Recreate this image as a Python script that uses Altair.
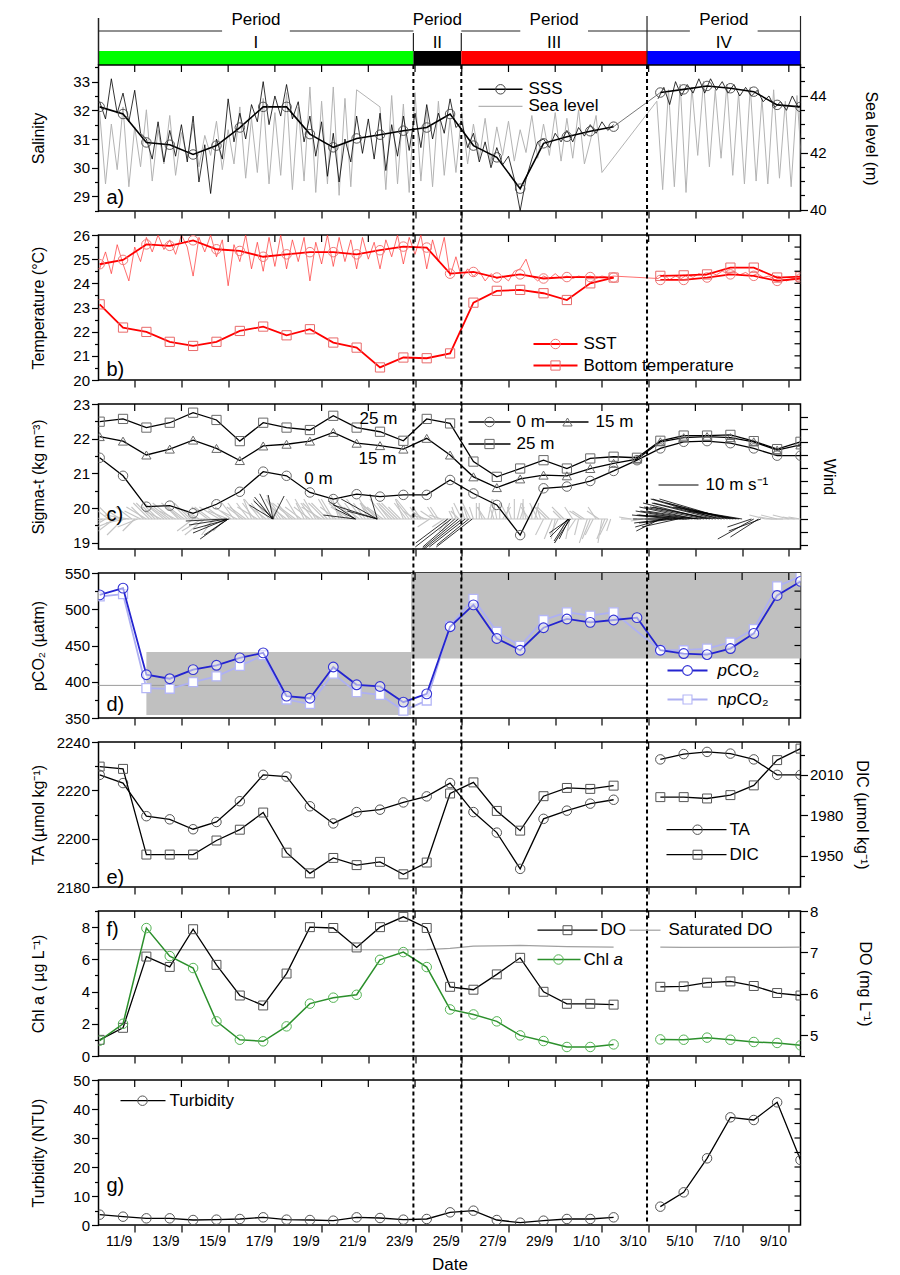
import altair as alt
import pandas as pd

FONT = "Liberation Sans"
W = 702
H = 145
HA = 146
HH = 56
SPACING = 23.5
XDOM = [9.95, 40.0]
PXD = W / (XDOM[1] - XDOM[0])  # pixels per day

# ---------------- periods ----------------
period_names = ["I", "II", "III", "IV"]
period_start = [9.95, 23.43, 25.48, 33.43]
period_end = [23.43, 25.48, 33.43, 40.0]
period_colors = ["#00ff00", "#000000", "#ff0000", "#0000ff"]
boundaries = [23.43, 25.48, 33.43]
x_ticks = [11.5 + 2 * k for k in range(15)]

days_1 = list(range(10, 33))
days_2 = list(range(34, 41))
days_all = list(range(10, 41))

# ---------------- a) salinity / sea level ----------------
sss_1 = [32.12, 31.87, 30.88, 30.80, 30.46, 30.77, 31.40, 32.12, 32.12, 31.17, 30.71, 31.02,
         31.15, 31.29, 31.40, 31.87, 30.77, 30.36, 29.27, 30.85, 31.08, 31.27, 31.43]
sss_2 = [32.62, 32.73, 32.85, 32.77, 32.65, 32.19, 32.12]
sal_hf_1 = [32.3, 31.7, 33.1, 31.9, 32.6, 31.6, 32.7, 31.2, 31.0, 30.3, 31.6, 30.2, 31.3, 30.4, 31.5, 30.2,
            31.8, 29.5, 30.8, 29.1, 31.0, 30.3, 32.4, 30.9, 31.9, 31.0, 32.2, 31.6, 33.0, 31.5, 32.5, 31.8,
            32.9, 31.7, 32.3, 30.9, 31.8, 30.4, 31.6, 29.7, 31.2, 29.5, 31.0, 30.2, 31.8, 30.5, 31.7, 30.3,
            31.9, 29.9, 31.5, 30.4, 31.8, 30.6, 31.9, 30.7, 32.2, 31.0, 31.9, 31.2, 32.4, 31.4, 31.6, 30.7,
            31.2, 30.2, 30.9, 30.0, 30.7, 30.1, 30.4, 29.6, 28.5, 29.6, 30.3, 30.9, 31.0, 30.7, 31.2, 30.9,
            31.3, 30.9, 31.4, 31.1, 31.5, 31.2, 31.6, 31.3, 31.5]
sal_hf_2 = [32.4, 32.8, 32.2, 33.0, 32.5, 32.9, 32.6, 33.1, 32.6, 33.1, 32.7, 33.0, 32.6, 32.9, 32.5, 32.8,
            32.5, 32.7, 32.3, 32.5, 32.1, 32.3, 32.0, 32.5, 32.1, 32.3]
sl_1 = [43.4, 40.9, 43.0, 41.4, 43.6, 40.8, 42.9, 41.5, 43.5, 41.0, 42.8, 41.6, 43.3, 41.2, 42.7, 41.8,
        43.0, 41.5, 42.6, 41.9, 43.1, 41.4, 42.8, 41.6, 43.6, 41.1, 43.2, 41.3, 43.9, 40.9, 43.4, 41.2,
        44.1, 40.7, 43.6, 41.0, 44.3, 40.6, 43.8, 40.9, 44.3, 40.5, 43.9, 40.8, 44.2]
sl_2 = [43.6, 40.7, 44.0, 40.9, 43.7, 40.6, 44.1, 41.0, 43.5, 40.8, 43.8, 41.2, 43.2, 41.3, 43.4, 41.6,
        43.0, 41.8, 43.2, 41.6, 42.9, 41.9, 43.1, 41.7, 42.8, 42.0, 43.3, 41.8, 43.0, 41.9, 43.4, 41.7,
        43.2, 41.8, 43.5, 41.6, 42.4, 43.3, 41.3]
sl_3 = [43.8, 40.7, 44.2, 40.8, 44.4, 40.6, 44.3, 41.9, 44.5, 41.5, 44.2, 41.8, 44.4, 41.2, 44.1, 40.9,
        44.3, 41.0, 43.9, 40.9, 44.2, 41.1, 43.8, 40.8, 44.0, 41.0]

# ---------------- b) temperature ----------------
sst_1 = [24.79, 24.97, 25.61, 25.55, 25.78, 25.41, 25.34, 25.10, 25.20, 25.29, 25.29, 25.20,
         25.37, 25.52, 25.48, 24.40, 24.47, 24.24, 24.37, 24.20, 24.26, 24.26, 24.24]
sst_2 = [24.14, 24.14, 24.24, 24.37, 24.31, 24.10, 24.20]
bt_1 = [23.13, 22.17, 21.99, 21.58, 21.41, 21.58, 22.03, 22.21, 21.85, 22.10, 21.55, 21.34,
        20.52, 20.93, 20.90, 21.10, 23.20, 23.69, 23.73, 23.59, 23.31, 24.00, 24.24]
bt_2 = [24.31, 24.33, 24.37, 24.65, 24.65, 24.24, 24.28]
sst_hf_1 = [24.6, 25.3, 24.4, 25.6, 24.8, 24.1, 25.5, 24.9, 25.9, 25.3, 26.0, 25.4, 25.8, 25.2, 26.0, 25.5,
            24.3, 25.9, 25.3, 26.0, 25.1, 25.8, 23.9, 25.6, 24.9, 26.0, 24.6, 25.7, 24.5, 25.9, 24.7, 26.0,
            24.6, 25.8, 24.9, 25.9, 24.1, 25.7, 24.8, 26.0, 24.7, 25.9, 24.9, 25.8, 24.6, 25.9, 25.0, 25.7,
            24.6, 25.8, 25.1, 26.0, 24.8, 25.9, 25.2, 26.0, 24.6, 25.8, 24.9, 25.9, 24.3, 25.1, 24.2, 24.6,
            24.3, 24.5, 24.1, 24.4, 24.2, 24.3, 24.1, 24.5, 24.6, 25.0, 24.3, 24.1, 24.3, 24.2, 24.4, 24.2,
            24.3, 24.2, 24.3, 24.25, 24.3, 24.2, 24.3, 24.25, 24.3]
sst_hf_2 = [24.2, 24.35, 24.15, 24.3, 24.2, 24.35, 24.25, 24.4, 24.3, 24.45, 24.35, 24.5, 24.4, 24.5,
            24.35, 24.45, 24.3, 24.4, 24.25, 24.3, 24.15, 24.2, 24.1, 24.2, 24.15]

# ---------------- c) sigma-t and wind ----------------
sig_0 = [21.45, 20.93, 20.04, 20.07, 19.85, 20.11, 20.47, 21.05, 20.93, 20.45, 20.26, 20.40, 20.33,
         20.38, 20.38, 20.81, 20.42, 20.09, 19.22, 20.57, 20.62, 20.78, 21.07, 21.38, 21.72, 21.91,
         21.93, 21.87, 21.72, 21.51, 21.51]
sig_15 = [22.06, 21.93, 21.53, 21.70, 21.96, 21.72, 21.37, 21.79, 21.84, 21.93, 22.18, 21.87, 21.80,
          21.70, 22.01, 21.53, 20.90, 20.59, 20.84, 20.95, 20.93, 21.14, 21.29, 21.41, 21.91, 22.03,
          22.06, 22.03, 21.91, 21.67, 21.82]
sig_25 = [22.49, 22.57, 22.32, 22.46, 22.75, 22.54, 21.93, 22.46, 22.32, 22.25, 22.66, 22.32, 22.20,
          21.94, 22.57, 22.44, 21.34, 20.90, 21.14, 21.38, 21.14, 21.43, 21.48, 21.45, 21.94, 22.09,
          22.09, 22.11, 21.93, 21.70, 21.91]
# grey wind sticks, every 6 h from 10/9 00h (u east, v north, m/s)
wg_u = [-4, -5, -3, -5, -4, -6, -3, -4, -5, -4, -3, -5, -4, -4, -5, -3,
        -4, -3, -5, -4, -3, -4, -5, -3,
        -3, -4, -2, -5, -3, -4, -2, -3, -4, -5, -3, -2, -4, -3, -5, -4, -3, -2, -4, -5, -3, -4, -2, -3,
        -5, -4, -3, -4, -2, -3,
        -3, -2, -4, -3, -2, -3, -2, -1, -2, -1,
        -1, 0, -2, 1, -1, 2, -2, 0, 1, -1, 0, -2,
        -2, -3, -1, -2, -3, -2, -1, -3, -2, -2, -1, -2]
wg_v = [2, -3, 3, -2, -4, 1, -3, 2, 3, 4, 3, 4, 3, 2, 4, 3,
        -3, 2, -4, 3, -2, 3, 2, 4,
        4, 3, 5, 3, 4, 5, 6, 4, 3, 4, 5, 4, 3, 5, 3, 4, 5, 6, 4, 3, 4, 5, 4, 3,
        4, 5, 3, 4, 5, 4,
        2, 3, 1, 2, 3, -2, -3, 3, 4, 3,
        3, 4, 3, 4, 5, 3, 4, 5, 3, 4, 3, 4,
        -4, 3, -5, 2, -6, 3, -4, 2, -5, 3, -6, -4]
# grey wind sticks, every 6 h from 10/9 03h
wg3_u = [-5, -4, -4, -3, -5, -4, -5, -3, -4, -3, -4, -4, -5, -3, -4, -4,
         -3, -5, -4, -3, -5, -3, -4, -4,
         -4, -3, -3, -4, -4, -3, -3, -4, -3, -4, -4, -3, -3, -4, -4, -3, -4, -3, -3, -4,
         -4, -3, -3, -4, -4, -3, -4, -3, -3, -4,
         -2, -3, -3, -2, -3, -2, -1, -2, -1, -2,
         0, -1, 1, -1, 0, 1, -1, 1, 0, -2, 1, -1,
         -3, -2, -2, -3, -1, -2, -3, -2, -2, -3, -2, -1]
wg3_v = [-2, 3, -3, 2, -1, 3, -2, 3, 4, 3, 2, 3, 4, 3, 3, 4,
         2, -3, 3, -4, 3, -3, 3, 2,
         3, 4, 4, 5, 3, 4, 5, 5, 4, 3, 3, 5, 4, 4, 4, 5, 3, 5, 5, 4,
         3, 4, 5, 4, 3, 4, 4, 3, 4, 5,
         3, 2, -2, 3, 1, -3, 2, 2, 3, 4,
         4, 3, 5, 3, 4, 4, 3, 4, 5, 3, 4, 3,
         3, -5, -4, 3, -5, -3, 2, -6, -4, 2, -5, -3]
wg2_t = [32.75, 33.0, 33.25, 38.5, 38.75, 39.0, 39.25, 39.5, 39.75, 40.0]
wg2_u = [-3, -4, -3, -4, -3, -4, -3, -4, -3, -3]
wg2_v = [0.5, 0, -0.5, 1, 0.5, 1, 0, 1, 0.5, 0.5]
# black wind sticks
wb_t = [15.40, 15.45, 15.45, 15.50, 15.50, 15.55,
        17.40, 17.40, 17.40, 17.42, 17.45, 17.40,
        20.95, 20.95, 20.95, 21.88, 21.88, 21.88, 21.88,
        24.90, 25.05, 25.20, 25.35, 25.50, 25.65, 25.80, 25.95,
        30.05, 30.05, 30.10, 30.10, 30.15,
        34.00, 34.25, 34.50, 34.75, 35.00, 35.25, 35.50, 35.75, 36.00, 36.25, 36.50, 36.75, 37.00,
        37.25, 37.50, 37.90, 38.00, 38.20, 38.30,
        34.125, 34.375, 34.625, 34.875, 35.125, 35.375, 35.625, 35.875, 36.125, 36.375, 36.625,
        36.875, 37.125, 37.375]
wb_u = [-10.0, -9.5, -8.5, -7.0, -6.0, -9.0,
        -5.8, -4.5, -3.2, -1.2, -5.0, 2.9,
        -6.8, -5.0, -8.0, -11.0, -7.5, -1.8, -9.0,
        -8, -9, -8, -9, -10, -9, -8, -9,
        -4.5, -3.5, -5.0, -2.5, -4.0,
        -6, -8, -10, -9, -12, -11, -14, -13, -16, -15, -17, -18, -16, -15, -12,
        -6, -9, -7, -8,
        -7, -9, -9, -11, -12, -13, -13, -15, -15, -16, -17, -17, -15, -13]
wb_v = [-0.5, -1.5, -3.5, -5.0, -4.0, -2.5,
        3.5, 5.5, 6.3, 6.0, 4.5, 5.75,
        4.5, 2.5, 1.0, 3.5, 2.0, 6.2, 5.0,
        -6, -7, -7, -7.5, -8, -7, -6.5, -7,
        -4.5, -5.5, -3.5, -5.0, -6.0,
        -3, -1, 1, -2, 2, 0, 3, 1, 4, 3, 5, 5, 4, 3, 2,
        -2, -5, -4.5, -3,
        -2, 0, -1, 1, 1, 2, 2, 3, 3, 4, 4, 5, 3, 2]

# ---------------- d) pCO2 ----------------
pco2 = [519.9, 529.2, 409.7, 404.2, 416.7, 422.7, 432.9, 439.8, 380.1, 377.3, 420.4, 395.8, 393.5,
        371.8, 383.3, 475.9, 506.0, 459.7, 443.5, 474.5, 486.6, 481.9, 485.2, 488.4, 443.5, 438.9,
        437.5, 445.8, 466.7, 519.0, 538.4]
npco2_1 = [517.6, 520.8, 391.2, 390.3, 399.5, 407.4, 421.8, 436.6, 375.5, 369.4, 411.1, 385.6, 381.9,
           360.2, 374.1, 477.0, 514.4, 469.0, 449.5, 485.2, 495.8, 491.2, 495.8]
npco2_2 = [443.5, 443.5, 445.8, 454.2, 472.7, 531.5, 545.4]
box_x1 = [12.0, 23.33]
box_x2 = [23.33, 40.0]
box_lo = [354, 432]
box_hi = [441, 550]
pco2_atm = 395

# ---------------- e) TA / DIC ----------------
ta_1 = [2226.4, 2223.0, 2209.3, 2208.0, 2203.9, 2206.9, 2215.5, 2226.4, 2225.7, 2213.4, 2206.3, 2211.0,
        2212.0, 2215.0, 2217.5, 2223.0, 2211.0, 2202.5, 2187.5, 2208.2, 2211.6, 2214.5, 2216.1]
ta_2 = [2232.8, 2235.0, 2235.9, 2235.2, 2232.8, 2226.4, 2226.4]
dic_1 = [2016.1, 2014.4, 1951.0, 1951.0, 1951.0, 1961.4, 1969.4, 1982.1, 1952.4, 1937.1, 1948.5, 1943.2,
         1945.6, 1936.4, 1945.1, 1996.2, 2004.4, 1983.3, 1968.7, 1994.2, 2000.3, 1999.6, 2002.0]
dic_2 = [1993.5, 1993.5, 1992.5, 1995.0, 2002.2, 2020.9, 2029.4]

# ---------------- f) Chl a / DO ----------------
chl_1 = [0.95, 2.0, 7.94, 6.2, 5.46, 2.15, 1.01, 0.91, 1.84, 3.25, 3.62, 3.8, 5.97, 6.45, 5.52, 2.89,
         2.58, 2.15, 1.28, 0.93, 0.56, 0.56, 0.72]
chl_2 = [1.03, 1.01, 1.14, 1.01, 0.87, 0.81, 0.66]
do_1 = [4.89, 5.18, 6.90, 6.65, 7.56, 6.70, 5.96, 5.72, 6.49, 7.61, 7.59, 7.12, 7.61, 7.86, 7.59, 6.17,
        6.10, 6.47, 6.87, 6.05, 5.76, 5.76, 5.74]
do_2 = [6.17, 6.18, 6.27, 6.30, 6.19, 6.02, 5.96]
sat_days_1 = [10, 17, 24, 25, 26, 28, 30, 32]
sat_do_1 = [7.07, 7.06, 7.07, 7.10, 7.15, 7.17, 7.14, 7.13]
sat_do_2 = [7.13, 7.12, 7.12, 7.12, 7.12, 7.12, 7.13]

# ---------------- g) turbidity ----------------
turb_1 = [3.56, 2.87, 2.3, 2.3, 1.72, 1.84, 2.07, 2.64, 1.84, 1.72, 1.49, 2.64, 2.41, 1.84, 2.07, 4.37,
          4.94, 1.72, 0.8, 1.49, 2.07, 2.07, 2.64]
turb_2 = [6.32, 11.26, 22.99, 37.13, 36.2, 42.3, 22.41]

# ---------------- domains ----------------
SAL_DOM = [28.49, 33.58]
SL_DOM = [39.95, 45.07]
T_DOM = [20, 26]
SIG_DOM = [18.82, 23]
WIND_DOM = [-7.5, 28.75]
PCO2_DOM = [350, 550]
TA_DOM = [2180, 2240]
DIC_DOM = [1927, 2034.3]
CHL_DOM = [0, 9]
DO_DOM = [4.5, 8]
TUR_DOM = [0, 50]

ONE = pd.DataFrame({"k": [0]})
NOFRAME = alt.ViewBackground(stroke="transparent")


# ---------------- helpers ----------------
def grid(start, n, step=0.25):
    return [round(start + step * i, 4) for i in range(n)]


def frame(days, vals, seg=1):
    return pd.DataFrame({"d": days, "v": vals, "seg": [seg] * len(days)})


def two(d1, v1, d2, v2):
    return pd.concat([frame(d1, v1, 1), frame(d2, v2, 2)], ignore_index=True)


def X(field, axis):
    return alt.X(f"{field}:Q", scale=alt.Scale(domain=XDOM, nice=False, zero=False), axis=axis)


def Y(field, dom, axis):
    return alt.Y(f"{field}:Q", scale=alt.Scale(domain=dom, nice=False, zero=False), axis=axis)


def yaxis(major, minor, title, orient="left", title_x=-60):
    vals = sorted(set(major) | set(minor))
    test = " || ".join(f"abs(datum.value - ({m})) < 0.001" for m in major)
    return alt.Axis(values=vals, orient=orient, title=title, titleX=title_x, titleBaseline="middle",
                    titleFontSize=16, titleFontWeight="normal",
                    labelExpr=f"({test}) ? format(datum.value, 'd') : ''",
                    tickSize={"condition": {"test": test, "value": 7}, "value": 4},
                    labelFontSize=15, labelPadding=2, domain=False, grid=False)


AX_TICKS = alt.Axis(values=x_ticks, labels=False, tickSize=7, title=None, domain=False, grid=False)
AX_DATE = alt.Axis(values=x_ticks, tickSize=7, title="Date", titlePadding=8, titleFontSize=17,
                   titleFontWeight="normal", labelFontSize=14, labelOffset=-16, labelFlush=False,
                   labelOverlap=False, domain=False, grid=False,
                   labelExpr="floor(datum.value) <= 30 ? floor(datum.value) + '/9' : (floor(datum.value) - 30) + '/10'")


class Panel:
    """Holds the x axis and one y axis so every layer of a scale repeats the same axis."""

    def __init__(self, xax, dom=None, yax=None):
        self.xax, self.dom, self.yax = xax, dom, yax

    def line(self, df, color, width, detail=True):
        enc = dict(x=X("d", self.xax), y=Y("v", self.dom, self.yax))
        if detail:
            enc["detail"] = "seg:N"
        return alt.Chart(df).mark_line(color=color, strokeWidth=width, clip=True).encode(**enc)

    def pts(self, df, shape, stroke, size=85, fill=None, sw=1.0, fop=1.0):
        if fill:
            m = alt.Chart(df).mark_point(shape=shape, filled=True, fill=fill, fillOpacity=fop, stroke=stroke,
                                         strokeWidth=sw, size=size, opacity=1, clip=True)
        else:
            m = alt.Chart(df).mark_point(shape=shape, filled=False, color=stroke, strokeWidth=sw,
                                         size=size, opacity=1, clip=True)
        return m.encode(x=X("d", self.xax), y=Y("v", self.dom, self.yax))

    def rules(self, h, top=-SPACING):
        return alt.Chart(pd.DataFrame({"d": boundaries})).mark_rule(
            color="black", strokeWidth=2, strokeDash=[4, 3], clip=False).encode(
            x=X("d", self.xax), y=alt.value(top), y2=alt.value(h))

    def top_ticks(self):
        return alt.Chart(pd.DataFrame({"d": x_ticks})).mark_rule(color="black", strokeWidth=1.2).encode(
            x=X("d", self.xax), y=alt.value(0), y2=alt.value(7))

    def right_ticks(self, vals):
        return alt.Chart(pd.DataFrame({"v": vals})).mark_rule(color="black", strokeWidth=1.2).encode(
            y=Y("v", self.dom, self.yax), x=alt.value(W - 6), x2=alt.value(W))


def leg_line(x0, x1, y, color, width=1.5):
    return alt.Chart(ONE).mark_rule(color=color, strokeWidth=width).encode(
        x=alt.value(x0), x2=alt.value(x1), y=alt.value(y))


def leg_mark(x, y, shape, stroke, size=85, fill=None):
    if fill:
        m = alt.Chart(ONE).mark_point(shape=shape, filled=True, fill=fill, stroke=stroke, strokeWidth=1.1,
                                      size=size, opacity=1)
    else:
        m = alt.Chart(ONE).mark_point(shape=shape, filled=False, color=stroke, strokeWidth=1.0,
                                      size=size, opacity=1)
    return m.encode(x=alt.value(x), y=alt.value(y))


def leg_text(x, y, txt, size=17, style="normal", align="left"):
    return alt.Chart(ONE).mark_text(align=align, baseline="middle", fontSize=size, font=FONT,
                                    fontStyle=style, color="black").encode(
        x=alt.value(x), y=alt.value(y), text=alt.value(txt))


def plabel(txt, y):
    return leg_text(8, y, txt, size=20)


def spacer():
    return alt.Chart(ONE).mark_point(opacity=0).encode(
        x=alt.value(0), y=alt.value(0)).properties(width=W, height=SPACING, view=NOFRAME)


# ---------------- header ----------------
period_mid = [(s + e) / 2 for s, e in zip(period_start, period_end)]
per_df = pd.DataFrame({"name": period_names, "s": period_start, "e": period_end, "mid": period_mid})
hl_x1, hl_x2 = [], []
for s, e, m in zip(period_start, period_end, period_mid):
    if (e - s) * PXD > 90:
        hl_x1 += [s, m + 1.45]
        hl_x2 += [m - 1.45, e]
hl_df = pd.DataFrame({"a": hl_x1, "b": hl_x2})

header = alt.layer(
    alt.Chart(per_df).mark_rect().encode(
        x=X("s", None), x2="e:Q", y=alt.value(42), y2=alt.value(56),
        color=alt.Color("name:N", scale=alt.Scale(domain=period_names, range=period_colors), legend=None)),
    alt.Chart(hl_df).mark_rule(color="#222", strokeWidth=1).encode(x=X("a", None), x2="b:Q", y=alt.value(22)),
    alt.Chart(pd.DataFrame({"b": [period_start[0]]})).mark_rule(color="#222", strokeWidth=1.5).encode(
        x=X("b", None), y=alt.value(9), y2=alt.value(56)),
    alt.Chart(pd.DataFrame({"b": [boundaries[2], period_end[-1]]})).mark_rule(color="#222", strokeWidth=1.2).encode(
        x=X("b", None), y=alt.value(7), y2=alt.value(56)),
    alt.Chart(pd.DataFrame({"b": boundaries[:2]})).mark_rule(color="#222", strokeWidth=1.2).encode(
        x=X("b", None), y=alt.value(24), y2=alt.value(42)),
    alt.Chart(per_df).mark_text(fontSize=17, font=FONT, baseline="middle").encode(
        x=X("mid", None), y=alt.value(11), text=alt.value("Period")),
    alt.Chart(per_df).mark_text(fontSize=17, font=FONT, baseline="middle").encode(
        x=X("mid", None), y=alt.value(34), text="name:N"),
).properties(width=W, height=HH, view=NOFRAME)

# ---------------- panel a ----------------
sal_hf_df = two(grid(10.0, len(sal_hf_1)), sal_hf_1, grid(33.9, len(sal_hf_2)), sal_hf_2)
sl_df = pd.concat([frame(grid(10.0, len(sl_1)), sl_1), frame(grid(22.0, len(sl_2)), sl_2),
                   frame(grid(33.85, len(sl_3)), sl_3)], ignore_index=True)
sss_df = two(days_1, sss_1, days_2, sss_2)
sss_gap = frame([days_1[-1], days_2[0]], [sss_1[-1], sss_2[0]])

pa_r = Panel(AX_TICKS, SL_DOM, yaxis([40, 42, 44], [40.5, 41, 41.5, 42.5, 43, 43.5, 44.5, 45],
                                     "Sea level (m)", "right", 70))
pa_l = Panel(AX_TICKS, SAL_DOM, yaxis([29, 30, 31, 32, 33], [28.5, 29.5, 30.5, 31.5, 32.5, 33.5], "Salinity"))
panel_a = alt.layer(
    pa_r.line(sl_df, "#b3b3b3", 1.0, detail=False),
    alt.layer(
        pa_l.line(sal_hf_df, "black", 0.8),
        pa_l.line(sss_gap, "#555", 0.8),
        pa_l.line(sss_df, "black", 1.6),
        pa_l.pts(sss_df, "circle", "#444", size=90, sw=0.9),
    ),
    pa_l.rules(HA, top=0), pa_l.top_ticks(),
    leg_line(380, 424, 24.3, "black", 1.6), leg_mark(402, 24.3, "circle", "#444", 90),
    leg_text(430, 24.3, "SSS"),
    leg_line(380, 424, 41.3, "#b3b3b3", 1.2), leg_text(430, 41.3, "Sea level"),
    plabel("a)", 133),
).resolve_scale(y="independent").properties(width=W, height=HA)

# ---------------- panel b ----------------
sst_hf_df = pd.concat([frame(grid(10.0, len(sst_hf_1)), sst_hf_1),
                       frame(grid(33.9, len(sst_hf_2)), sst_hf_2)], ignore_index=True)
sst_df = two(days_1, sst_1, days_2, sst_2)
bt_df = two(days_1, bt_1, days_2, bt_2)
pb = Panel(AX_TICKS, T_DOM, yaxis([20, 21, 22, 23, 24, 25, 26], [20.5, 21.5, 22.5, 23.5, 24.5, 25.5],
                                  "Temperature (°C)"))
panel_b = alt.layer(
    pb.line(sst_hf_df, "#ff3030", 0.7, detail=False),
    pb.line(sst_df, "#ff0000", 1.8),
    pb.pts(sst_df, "circle", "#f07878", size=90),
    pb.line(bt_df, "#ff0000", 1.8),
    pb.pts(bt_df, "square", "#e86a6a", size=85),
    pb.right_ticks([20.5, 21, 21.5, 22, 22.5, 23, 23.5, 24, 24.5, 25, 25.5]),
    pb.rules(H), pb.top_ticks(),
    leg_line(435, 479, 109, "#ff0000", 1.8), leg_mark(457, 109, "circle", "#f07878", 90),
    leg_text(485, 109, "SST"),
    leg_line(435, 479, 130.5, "#ff0000", 1.8), leg_mark(457, 130.5, "square", "#e86a6a", 85),
    leg_text(485, 130.5, "Bottom temperature"),
    plabel("b)", 134.5),
).properties(width=W, height=H)


# ---------------- panel c ----------------
def wind_df(ts, us, vs):
    return pd.DataFrame({"d": ts, "te": [t + u * 4.0 / PXD for t, u in zip(ts, us)],
                         "y0": [0.0] * len(ts), "v": vs})


wg_times = grid(10.0, len(wg_u))
wg_df = pd.concat([wind_df(wg_times, wg_u, wg_v),
                   wind_df(grid(10.125, len(wg3_u)), wg3_u, wg3_v),
                   wind_df(wg2_t, wg2_u, wg2_v)], ignore_index=True)
wb_df = wind_df(wb_t, wb_u, wb_v)
wbase_df = pd.DataFrame({"d": [wg_times[0], wg2_t[3]], "te": [wg_times[-1], wg2_t[-1]], "y0": [0.0, 0.0]})
wind_ticks = [3.2 * k for k in range(-2, 9)]
WIND_AX = alt.Axis(values=wind_ticks, labels=False, tickSize=7, title="Wind", titleX=28,
                   titleBaseline="middle", titleFontSize=16, titleFontWeight="normal",
                   orient="right", domain=False, grid=False)
s0_df = frame(days_all, sig_0)
s15_df = frame(days_all, sig_15)
s25_df = frame(days_all, sig_25)
pc = Panel(AX_TICKS, SIG_DOM, yaxis([19, 20, 21, 22, 23], [19.5, 20.5, 21.5, 22.5], "Sigma-t (kg m⁻³)"))
panel_c = alt.layer(
    alt.layer(
        alt.Chart(wg_df).mark_rule(color="#c4c4c4", strokeWidth=1.1, clip=True).encode(
            x=X("d", AX_TICKS), x2="te:Q", y=Y("y0", WIND_DOM, WIND_AX), y2="v:Q"),
        alt.Chart(wbase_df).mark_rule(color="#c4c4c4", strokeWidth=1.2, clip=True).encode(
            x=X("d", AX_TICKS), x2="te:Q", y=Y("y0", WIND_DOM, WIND_AX)),
        alt.Chart(wb_df).mark_rule(color="black", strokeWidth=0.8, clip=True).encode(
            x=X("d", AX_TICKS), x2="te:Q", y=Y("y0", WIND_DOM, WIND_AX), y2="v:Q"),
    ),
    alt.layer(
        pc.line(s25_df, "black", 1.3),
        pc.line(s15_df, "black", 1.3),
        pc.line(s0_df, "black", 1.3),
        pc.pts(s25_df, "square", "#6a6a6a", size=85),
        pc.pts(s15_df, "triangle-up", "#6a6a6a", size=85),
        pc.pts(s0_df, "circle", "#6a6a6a", size=90),
    ),
    pc.rules(H), pc.top_ticks(),
    leg_text(280, 15, "25 m", align="center"), leg_text(279, 55, "15 m", align="center"),
    leg_text(220, 75, "0 m", align="center"),
    leg_line(370, 412, 18, "black", 1.3), leg_mark(391, 18, "circle", "#6a6a6a", 90),
    leg_text(418, 18, "0 m"),
    leg_line(447, 490, 18, "black", 1.3), leg_mark(469, 18, "triangle-up", "#6a6a6a", 85),
    leg_text(497, 18, "15 m"),
    leg_line(370, 412, 40, "black", 1.3), leg_mark(391, 40, "square", "#6a6a6a", 85),
    leg_text(418, 40, "25 m"),
    leg_line(560, 600, 81, "black", 1.0), leg_text(607, 81, "10 m s⁻¹"),
    plabel("c)", 111),
).resolve_scale(y="independent").properties(width=W, height=H)

# ---------------- panel d ----------------
box_df = pd.DataFrame({"d": box_x1, "x2": box_x2, "v": box_lo, "hi": box_hi})
pco2_df = frame(days_all, pco2)
npco2_df = frame(days_1 + days_2, npco2_1 + npco2_2)
pd_ = Panel(AX_TICKS, PCO2_DOM, yaxis([350, 400, 450, 500, 550], [375, 425, 475, 525], "pCO₂ (µatm)"))
panel_d = alt.layer(
    alt.Chart(box_df).mark_rect(color="#c0c0c0").encode(
        x=X("d", AX_TICKS), x2="x2:Q", y=Y("v", PCO2_DOM, pd_.yax), y2="hi:Q"),
    alt.Chart(pd.DataFrame({"v": [pco2_atm]})).mark_rule(color="#9a9a9a", strokeWidth=1).encode(
        y=Y("v", PCO2_DOM, pd_.yax)),
    pd_.line(npco2_df, "#aeb0f2", 1.8, detail=False),
    pd_.pts(npco2_df, "square", "#b4b6f6", size=80, fill="white", sw=1.3),
    pd_.line(pco2_df, "#2424d0", 1.8, detail=False),
    pd_.pts(pco2_df, "circle", "#3434d4", size=95, fill="white", sw=1.1, fop=0.55),
    pd_.right_ticks([375, 400, 425, 450, 475, 500, 525]),
    pd_.rules(H), pd_.top_ticks(),
    leg_line(569, 609, 97.5, "#2424d0", 1.8), leg_mark(589, 97.5, "circle", "#3434d4", 95, fill="white"),
    leg_text(619, 97.5, "p", style="italic"), leg_text(628.5, 97.5, "CO₂"),
    leg_line(569, 609, 126.5, "#aeb0f2", 1.8), leg_mark(589, 126.5, "square", "#b4b6f6", 80, fill="white"),
    leg_text(619, 126.5, "n"), leg_text(628.5, 126.5, "p", style="italic"), leg_text(638, 126.5, "CO₂"),
    plabel("d)", 131.5),
).properties(width=W, height=H)

# ---------------- panel e ----------------
ta_df = two(days_1, ta_1, days_2, ta_2)
dic_df = two(days_1, dic_1, days_2, dic_2)
pe_l = Panel(AX_TICKS, TA_DOM, yaxis([2180, 2200, 2220, 2240], [2190, 2210, 2230], "TA (µmol kg⁻¹)"))
pe_r = Panel(AX_TICKS, DIC_DOM, yaxis([1950, 1980, 2010], [1935, 1965, 1995, 2025], "DIC (µmol kg⁻¹)",
                                      "right", 61))
panel_e = alt.layer(
    alt.layer(pe_l.line(ta_df, "black", 1.3), pe_l.pts(ta_df, "circle", "#555", size=90)),
    alt.layer(pe_r.line(dic_df, "black", 1.3), pe_r.pts(dic_df, "square", "#555", size=80)),
    pe_l.rules(H), pe_l.top_ticks(),
    leg_line(568, 628, 87.7, "black", 1.3), leg_mark(599, 87.7, "circle", "#555", 90),
    leg_text(631, 87.7, "TA"),
    leg_line(568, 628, 112.7, "black", 1.3), leg_mark(599, 112.7, "square", "#555", 80),
    leg_text(631, 112.7, "DIC"),
    plabel("e)", 136),
).resolve_scale(y="independent").properties(width=W, height=H)

# ---------------- panel f ----------------
chl_df = two(days_1, chl_1, days_2, chl_2)
do_df = two(days_1, do_1, days_2, do_2)
sat_df = two(sat_days_1, sat_do_1, days_2, sat_do_2)
pf_r = Panel(AX_TICKS, DO_DOM, yaxis([5, 6, 7, 8], [4.5, 5.5, 6.5, 7.5], "DO (mg L⁻¹)", "right", 64))
pf_l = Panel(AX_TICKS, CHL_DOM, yaxis([0, 2, 4, 6, 8], [1, 3, 5, 7, 9], "Chl a ( µg L⁻¹)"))
panel_f = alt.layer(
    alt.layer(pf_r.line(sat_df, "#a0a0a0", 1.2), pf_r.line(do_df, "black", 1.3),
              pf_r.pts(do_df, "square", "#555", size=80)),
    alt.layer(pf_l.line(chl_df, "#2b8f2b", 1.5), pf_l.pts(chl_df, "circle", "#55b455", size=90)),
    pf_l.rules(H), pf_l.top_ticks(),
    leg_line(439, 499, 19.2, "black", 1.3), leg_mark(469, 19.2, "square", "#555", 80),
    leg_text(502, 19.2, "DO"),
    leg_line(531, 562, 19.2, "#a0a0a0", 1.2), leg_text(570, 19.2, "Saturated DO"),
    leg_line(439, 482, 48.5, "#2b8f2b", 1.5), leg_mark(460, 48.5, "circle", "#55b455", 90),
    leg_text(485, 48.5, "Chl"), leg_text(515, 48.5, "a", style="italic"),
    plabel("f)", 19),
).resolve_scale(y="independent").properties(width=W, height=H)

# ---------------- panel g ----------------
tur_df = two(days_1, turb_1, days_2, turb_2)
pg = Panel(AX_DATE, TUR_DOM, yaxis([0, 10, 20, 30, 40, 50], [5, 15, 25, 35, 45], "Turbidity (NTU)"))
panel_g = alt.layer(
    pg.line(tur_df, "black", 1.3),
    pg.pts(tur_df, "circle", "#555", size=90),
    pg.right_ticks([5, 10, 15, 20, 25, 30, 35, 40, 45]),
    pg.rules(H), pg.top_ticks(),
    leg_line(22, 67, 20.7, "black", 1.3), leg_mark(44, 20.7, "circle", "#555", 90),
    leg_text(71, 20.7, "Turbidity"),
    plabel("g)", 106),
).properties(width=W, height=H)

chart = alt.vconcat(header, panel_a, spacer(), panel_b, spacer(), panel_c, spacer(), panel_d,
                    spacer(), panel_e, spacer(), panel_f, spacer(), panel_g,
                    spacing=0, bounds="flush").properties(
    padding={"left": 21.5, "top": 0, "right": 5, "bottom": 5}
).configure(font=FONT).configure_view(stroke="black", strokeWidth=1.5).configure_axis(
    labelFont=FONT, titleFont=FONT, labelColor="black", titleColor="black", tickColor="black",
    tickWidth=1.2)

chart.save("out.html", embed_options={"renderer": "svg", "actions": False})
